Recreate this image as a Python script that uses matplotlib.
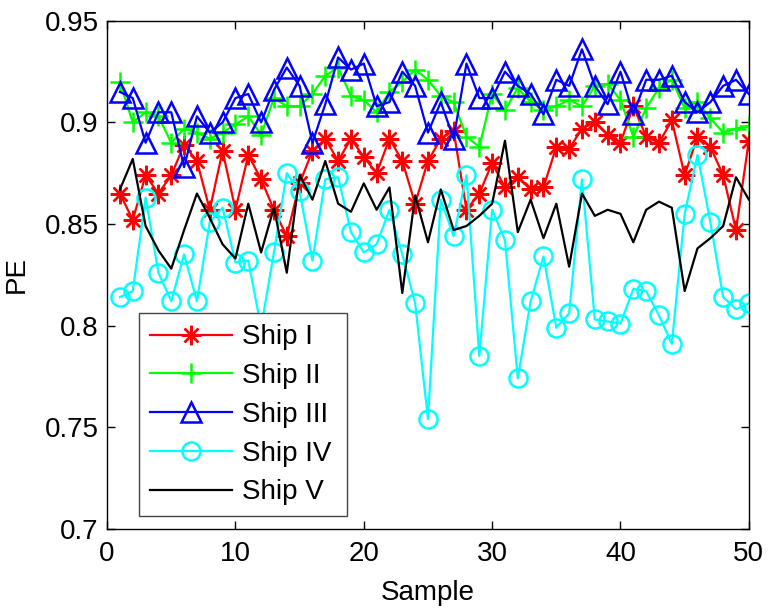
#!/usr/bin/env python3
"""PE of five ships over 50 samples."""

import matplotlib
matplotlib.use("Agg")
import matplotlib.pyplot as plt
import numpy as np

plt.rcParams["font.family"] = ["Liberation Sans", "DejaVu Sans"]

samples = np.arange(1, 51)

ship_1 = [0.865, 0.852, 0.874, 0.865, 0.874, 0.889, 0.881, 0.857, 0.886, 0.857,
          0.884, 0.872, 0.857, 0.844, 0.870, 0.886, 0.892, 0.881, 0.892, 0.883,
          0.875, 0.892, 0.881, 0.860, 0.881, 0.892, 0.896, 0.857, 0.865, 0.880,
          0.868, 0.873, 0.867, 0.868, 0.888, 0.887, 0.897, 0.900, 0.894, 0.890,
          0.908, 0.893, 0.890, 0.901, 0.874, 0.893, 0.888, 0.874, 0.847, 0.891]

ship_2 = [0.920, 0.900, 0.905, 0.903, 0.890, 0.897, 0.895, 0.892, 0.895, 0.899,
          0.903, 0.894, 0.912, 0.908, 0.908, 0.914, 0.923, 0.927, 0.913, 0.911,
          0.905, 0.915, 0.920, 0.926, 0.921, 0.913, 0.910, 0.893, 0.888, 0.914,
          0.906, 0.917, 0.910, 0.906, 0.908, 0.911, 0.908, 0.918, 0.919, 0.911,
          0.893, 0.907, 0.917, 0.921, 0.907, 0.910, 0.902, 0.895, 0.897, 0.898]

ship_3 = [0.915, 0.912, 0.890, 0.905, 0.905, 0.878, 0.903, 0.895, 0.900, 0.912,
          0.914, 0.900, 0.916, 0.927, 0.918, 0.890, 0.909, 0.932, 0.926, 0.929,
          0.908, 0.910, 0.925, 0.918, 0.895, 0.910, 0.892, 0.929, 0.912, 0.912,
          0.925, 0.918, 0.914, 0.904, 0.921, 0.918, 0.936, 0.918, 0.909, 0.925,
          0.904, 0.921, 0.921, 0.923, 0.910, 0.905, 0.910, 0.918, 0.921, 0.914]

ship_4 = [0.814, 0.817, 0.863, 0.826, 0.812, 0.835, 0.812, 0.851, 0.858, 0.831,
          0.832, 0.799, 0.836, 0.875, 0.866, 0.832, 0.872, 0.873, 0.846, 0.836,
          0.840, 0.857, 0.835, 0.811, 0.754, 0.862, 0.844, 0.874, 0.785, 0.857,
          0.842, 0.774, 0.812, 0.834, 0.799, 0.806, 0.872, 0.803, 0.802, 0.801,
          0.818, 0.817, 0.805, 0.791, 0.855, 0.884, 0.851, 0.814, 0.808, 0.811]

ship_5 = [0.867, 0.882, 0.849, 0.837, 0.828, 0.847, 0.865, 0.853, 0.840, 0.833,
          0.860, 0.836, 0.858, 0.826, 0.874, 0.862, 0.881, 0.860, 0.856, 0.870,
          0.857, 0.868, 0.816, 0.864, 0.841, 0.867, 0.847, 0.849, 0.854, 0.860,
          0.891, 0.846, 0.862, 0.843, 0.860, 0.829, 0.865, 0.854, 0.857, 0.855,
          0.841, 0.857, 0.861, 0.858, 0.817, 0.838, 0.843, 0.849, 0.873, 0.862]

labels = ["Ship I", "Ship II", "Ship III", "Ship IV", "Ship V"]

fig = plt.figure(figsize=(7.76, 6.14), dpi=100)
ax = fig.add_axes([0.138, 0.139, 0.827, 0.827])

lw = 1.6
ax.plot(samples, ship_1, color="#ff0000", lw=lw, marker=(8, 2, 0), ms=14, mew=1.7, label=labels[0])
ax.plot(samples, ship_2, color="#00ff00", lw=lw, marker="+", ms=14, mew=1.8, label=labels[1])
ax.plot(samples, ship_3, color="#0000ff", lw=lw, marker="^", ms=15, mew=1.8, mfc="none", label=labels[2])
ax.plot(samples, ship_4, color="#00ffff", lw=lw, marker="o", ms=13, mew=1.8, mfc="none", label=labels[3])
ax.plot(samples, ship_5, color="#000000", lw=lw, label=labels[4])

ax.set_xlim(0, 50)
ax.set_ylim(0.7, 0.95)
ax.set_xticks([0, 10, 20, 30, 40, 50])
ax.set_yticks([0.7, 0.75, 0.8, 0.85, 0.9, 0.95])
ax.set_yticklabels(["0.7", "0.75", "0.8", "0.85", "0.9", "0.95"])
ax.tick_params(direction="in", top=True, right=True, length=6, width=1, labelsize=20)
ax.tick_params(axis="x", pad=9)
ax.tick_params(axis="y", pad=6)
for s in ax.spines.values():
    s.set_linewidth(1.0)
ax.set_xlabel("Sample", fontsize=20, labelpad=9)
ax.set_ylabel("PE", fontsize=20, labelpad=11)

leg = ax.legend(loc="lower left", bbox_to_anchor=(0.05, 0.024, 0.324, 0.402), mode="expand",
                fontsize=20, frameon=True, fancybox=False, edgecolor="#444444",
                handlelength=2.95, handletextpad=0.35, borderaxespad=0, borderpad=0.4,
                labelspacing=0.46, framealpha=1.0)
leg.get_frame().set_linewidth(1.0)

fig.savefig("out.png", dpi=100)
